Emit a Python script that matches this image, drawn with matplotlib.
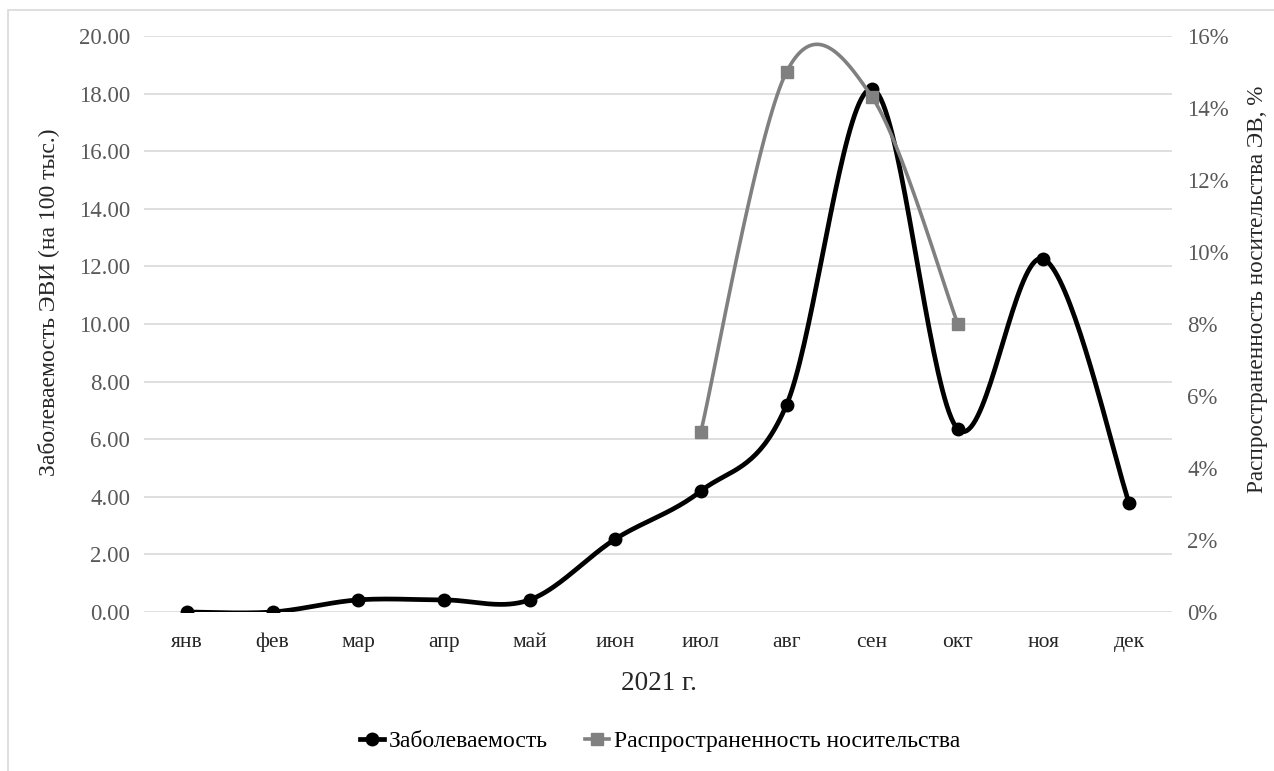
import matplotlib
matplotlib.use("Agg")
import matplotlib.pyplot as plt
import numpy as np
from matplotlib.lines import Line2D
from matplotlib.patches import Rectangle
from matplotlib.ticker import FuncFormatter

plt.rcParams["font.family"] = ["Liberation Serif", "DejaVu Serif"]

months = ["янв", "фев", "мар", "апр", "май", "июн", "июл", "авг", "сен", "окт", "ноя", "дек"]
incidence = [0.0, 0.0, 0.42, 0.42, 0.42, 2.53, 4.2, 7.19, 18.16, 6.35, 12.26, 3.78]
carriage_months = ["июл", "авг", "сен", "окт"]
carriage_pct = [5.0, 15.0, 14.3, 8.0]

TICK_COLOR = "#595959"
TEXT_COLOR = "#262626"
GRID_COLOR = "#d9d9d9"


def smooth(xs, ys, steps=40):
    """Bezier smoothing through every point, like the spreadsheet 'smoothed line' option."""
    pts = np.column_stack([xs, ys]).astype(float)
    n = len(pts)
    out = [pts[0]]
    t = np.linspace(0, 1, steps)[1:, None]
    for i in range(n - 1):
        p0 = pts[max(i - 1, 0)]
        p1 = pts[i]
        p2 = pts[i + 1]
        p3 = pts[min(i + 2, n - 1)]
        c1 = p1 + (p2 - p0) / 6.0
        c2 = p2 - (p3 - p1) / 6.0
        seg = ((1 - t) ** 3) * p1 + 3 * ((1 - t) ** 2) * t * c1 + 3 * (1 - t) * t ** 2 * c2 + t ** 3 * p2
        out.extend(seg)
    out = np.array(out)
    return out[:, 0], out[:, 1]


fig = plt.figure(figsize=(12.74, 7.71), dpi=100)
ax = fig.add_axes([144 / 1274, 1 - 612 / 771, (1172 - 144) / 1274, (612 - 36) / 771])
ax2 = ax.twinx()

# chart-area frame
fig.patches.append(Rectangle((8 / 1274, -0.1), 1.2, 1 - 10 / 771 + 0.1, transform=fig.transFigure,
                             fill=False, edgecolor="#d9d9d9", linewidth=1.2))

x = np.arange(len(months))
sx, sy = smooth(x, incidence)
ax.plot(sx, sy, color="black", linewidth=3.4, solid_capstyle="round", zorder=3)
ax.plot(x, incidence, linestyle="none", marker="o", markersize=9, color="black", zorder=4)

cx = np.array([months.index(m) for m in carriage_months])
gx, gy = smooth(cx, carriage_pct)
ax2.plot(gx, gy, color="#808080", linewidth=2.6, solid_capstyle="round", zorder=3)
ax2.plot(cx, carriage_pct, linestyle="none", marker="s", markersize=9, color="#808080", zorder=4)

ax.set_xlim(-0.5, len(months) - 0.5)
ax.set_ylim(0, 20)
ax.set_yticks(np.arange(0, 20.1, 2))
ax.yaxis.set_major_formatter(FuncFormatter(lambda v, p: f"{v:.2f}"))
ax2.set_ylim(0, 16)
ax2.set_yticks(np.arange(0, 16.1, 2))
ax2.yaxis.set_major_formatter(FuncFormatter(lambda v, p: f"{v:.0f}%"))

ax.set_xticks(x)
ax.set_xticklabels(months)
ax.grid(axis="y", color=GRID_COLOR, linewidth=1.2)
ax.set_axisbelow(True)

for a in (ax, ax2):
    for s in a.spines.values():
        s.set_visible(False)
ax.tick_params(axis="y", length=0, pad=10, labelsize=16.5, labelcolor=TICK_COLOR)
ax.tick_params(axis="x", length=0, pad=15, labelsize=15.5, labelcolor=TEXT_COLOR)
ax2.tick_params(axis="y", length=0, pad=11, labelsize=16.5, labelcolor=TICK_COLOR)

fig.text(48 / 1274, 1 - 302 / 771, "Заболеваемость ЭВИ (на 100 тыс.)", rotation=90,
         ha="center", va="center", fontsize=17, color=TEXT_COLOR)
fig.text(1258 / 1274, 1 - 289 / 771, "Распространенность носительства ЭВ, %", rotation=90,
         ha="center", va="center", fontsize=16.7, color=TEXT_COLOR)
fig.text(659 / 1274, 1 - 684 / 771, "2021 г.", ha="center", va="center",
         fontsize=19.5, color=TEXT_COLOR)

handles = [
    Line2D([], [], color="black", linewidth=3.4, marker="o", markersize=9),
    Line2D([], [], color="#808080", linewidth=2.6, marker="s", markersize=9),
]
fig.legend(handles, ["Заболеваемость", "Распространенность носительства"],
           loc="center", bbox_to_anchor=(660 / 1274, 1 - 741 / 771), ncol=2, frameon=False,
           fontsize=17, handlelength=1.0, handletextpad=0.2, columnspacing=1.6)

fig.savefig("out.png", dpi=100)
